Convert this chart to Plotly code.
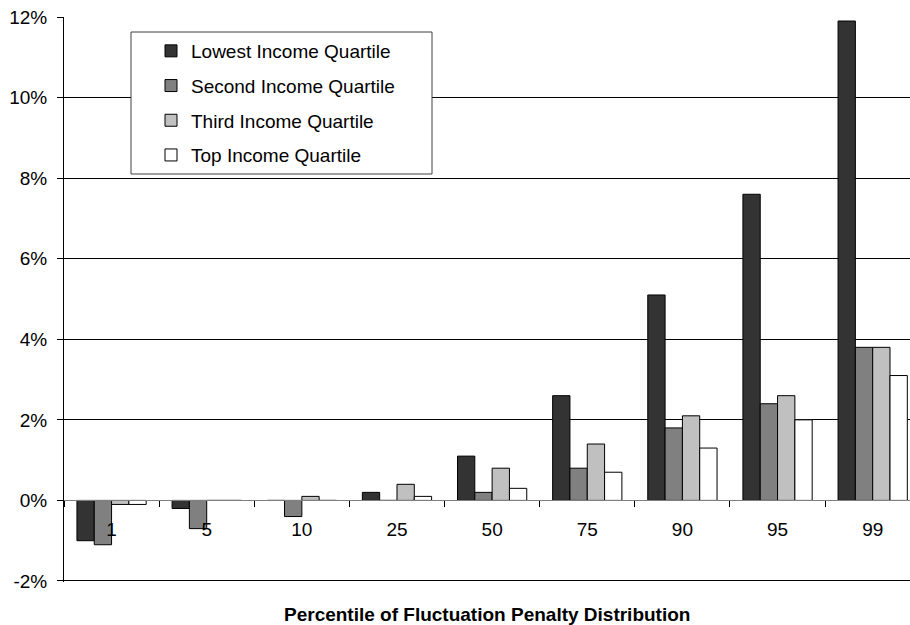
import plotly.graph_objects as go

# Percentile categories of the fluctuation penalty distribution
categories = ["1", "5", "10", "25", "50", "75", "90", "95", "99"]

# Values in percent, one list per income quartile
lowest_quartile = [-1.0, -0.2, 0.0, 0.2, 1.1, 2.6, 5.1, 7.6, 11.9]
second_quartile = [-1.1, -0.7, -0.4, 0.0, 0.2, 0.8, 1.8, 2.4, 3.8]
third_quartile = [-0.1, 0.0, 0.1, 0.4, 0.8, 1.4, 2.1, 2.6, 3.8]
top_quartile = [-0.1, 0.0, 0.0, 0.1, 0.3, 0.7, 1.3, 2.0, 3.1]

series_names = [
    "Lowest Income Quartile",
    "Second Income Quartile",
    "Third Income Quartile",
    "Top Income Quartile",
]
series_values = [lowest_quartile, second_quartile, third_quartile, top_quartile]
series_colors = ["#333333", "#808080", "#C0C0C0", "#FFFFFF"]

y_tick_values = [-2, 0, 2, 4, 6, 8, 10, 12]
y_tick_labels = ["-2%", "0%", "2%", "4%", "6%", "8%", "10%", "12%"]

FONT = "Liberation Sans, Arial, sans-serif"

fig = go.Figure()
for i, (name, vals, col) in enumerate(zip(series_names, series_values, series_colors)):
    fig.add_trace(
        go.Bar(
            x=categories,
            y=vals,
            name=name,
            legendgroup=f"g{i}",
            marker=dict(color=col, line=dict(color="#000000", width=1)),
        )
    )

W, H = 910, 625
ML, MR, MT, MB = 64, 0, 17, 43
plot_w = W - ML - MR
plot_h = H - MT - MB
cat_px = 95.14  # width of one category slot
x_end = -0.5 + plot_w / cat_px
y_min = -2.025  # a hair below -2% so the bottom gridline stays visible

zero_frac = (0 - y_min) / (12 - y_min)

def px_x(px):
    return (px - ML) / plot_w

def px_y(py):
    return 1 - (py - MT) / plot_h

fig.update_layout(
    width=W,
    height=H,
    margin=dict(l=ML, r=MR, t=MT, b=MB, pad=0),
    paper_bgcolor="white",
    plot_bgcolor="white",
    barmode="group",
    bargap=0.272,
    bargroupgap=0,
    font=dict(family=FONT, size=19, color="#000000"),
    showlegend=True,
    legend=dict(
        x=px_x(151),
        y=px_y(32),
        xanchor="left",
        yanchor="top",
        bgcolor="rgba(0,0,0,0)",
        borderwidth=0,
        tracegroupgap=7,
        font=dict(family=FONT, size=19, color="#000000"),
        traceorder="grouped",
    ),
    xaxis=dict(
        type="category",
        range=[-0.5, x_end],
        anchor="free",
        position=zero_frac,
        showline=True,
        linecolor="#808080",
        linewidth=1,
        ticks="outside",
        tickson="boundaries",
        ticklen=6,
        tickcolor="#000000",
        tickwidth=1,
        showgrid=False,
        zeroline=False,
        ticklabelstandoff=12,
        tickfont=dict(family=FONT, size=19, color="#000000"),
    ),
    yaxis=dict(
        range=[y_min, 12],
        tickmode="array",
        tickvals=y_tick_values,
        ticktext=y_tick_labels,
        showline=True,
        linecolor="#000000",
        linewidth=1,
        ticks="outside",
        ticklen=6,
        tickcolor="#000000",
        showgrid=True,
        gridcolor="#000000",
        gridwidth=1,
        zeroline=False,
        ticklabelstandoff=6,
        tickfont=dict(family=FONT, size=19, color="#000000"),
    ),
    shapes=[
        dict(
            type="rect",
            xref="paper",
            yref="paper",
            x0=px_x(131),
            x1=px_x(432),
            y0=px_y(174),
            y1=px_y(32),
            fillcolor="#FFFFFF",
            line=dict(color="#404040", width=1),
            layer="above",
        )
    ],
    annotations=[
        dict(
            text="<b>Percentile of Fluctuation Penalty Distribution</b>",
            xref="paper",
            yref="paper",
            x=0.5,
            y=px_y(614),
            xanchor="center",
            yanchor="middle",
            showarrow=False,
            font=dict(family=FONT, size=19, color="#000000"),
        )
    ],
)

fig.write_html("out.html")
